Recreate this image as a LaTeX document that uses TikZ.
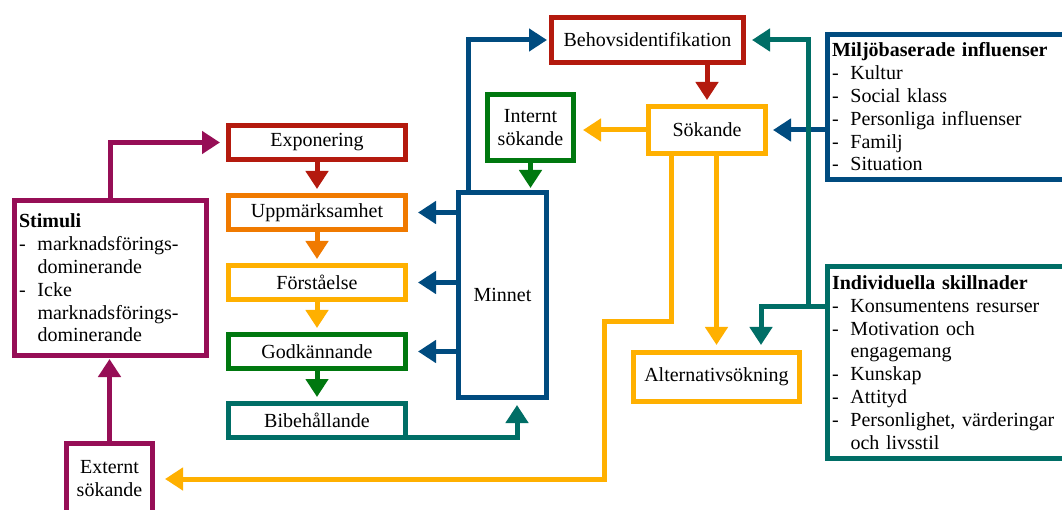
\documentclass[tikz,border=0pt]{standalone}
\usepackage{fontspec}
\setmainfont{Liberation Serif}
\usetikzlibrary{arrows.meta}
\definecolor{cred}{RGB}{180,26,14}
\definecolor{corange}{RGB}{240,122,0}
\definecolor{cyellow}{RGB}{255,176,0}
\definecolor{cgreen}{RGB}{0,120,15}
\definecolor{cteal}{RGB}{0,110,102}
\definecolor{cblue}{RGB}{0,75,127}
\definecolor{cpurple}{RGB}{150,14,86}
\newcommand\itm[1]{\makebox[18.5pt][l]{-}#1}
\newcommand\cnt[1]{\hspace*{18.5pt}#1}
\begin{document}
\begin{tikzpicture}[x=1pt,y=-1pt,
  box/.style={draw=#1, line width=5pt, fill=white, text=black, inner sep=0pt, align=center,
    font=\fontsize{20}{23}\selectfont},
  listbox/.style={draw=#1, line width=5pt, fill=white, text=black, inner xsep=5pt, inner ysep=0pt,
    align=left, font=\fontsize{20}{22.8}\selectfont},
  arr/.style={draw=#1, line width=5pt, -{Triangle[length=18pt,width=22pt]}},
  flow/.style={box=#1, minimum width=177pt, minimum height=34pt}]
\useasboundingbox (0,0) rectangle (1062,510);
\fill[white] (0,0) rectangle (1062,510);

% left column
\node[flow=cred] (expo) at (317,142.5) {Exponering};
\node[flow=corange] (upp) at (317,212.5) {Uppmärksamhet};
\node[flow=cyellow] (forst) at (317,282.5) {Förståelse};
\node[flow=cgreen] (godk) at (317,351.5) {Godkännande};
\node[flow=cteal] (bibe) at (317,420.5) {Bibehållande};

\node[listbox=cpurple, text width=182pt, minimum height=155pt] (stim) at (110,278)
  {\textbf{Stimuli}\\\itm{marknadsförings-}\\\cnt{dominerande}\\\itm{Icke}\\\cnt{marknadsförings-}\\\cnt{dominerande}};
\node[box=cpurple, minimum width=86pt, minimum height=70pt] (ext) at (109.5,478.5)
  {Externt\\sökande};

\node[box=cblue, minimum width=88pt, minimum height=205pt] (minnet) at (502.5,295) {Minnet};
\node[box=cgreen, minimum width=86pt, minimum height=66pt] (intern) at (530.5,127.5) {Internt\\sökande};
\node[box=cred, minimum width=192pt, minimum height=45pt] (behov) at (647.5,40) {Behovsidentifikation};
\node[box=cyellow, minimum width=117pt, minimum height=47pt] (sok) at (707,130) {Sökande};
\node[box=cyellow, minimum width=166pt, minimum height=49pt] (alt) at (716.5,377) {Alternativsökning};

\node[listbox=cblue, text width=232pt, minimum height=145pt, anchor=west] (milj) at (824.5,107)
  {\textbf{Miljöbaserade influenser}\\\itm{Kultur}\\\itm{Social klass}\\\itm{Personliga influenser}\\\itm{Familj}\\\itm{Situation}};
\node[listbox=cteal, text width=232pt, minimum height=192pt, anchor=west] (indiv) at (824.5,362.5)
  {\textbf{Individuella skillnader}\\\itm{Konsumentens resurser}\\\itm{Motivation och}\\\cnt{engagemang}\\\itm{Kunskap}\\\itm{Attityd}\\\itm{Personlighet, värderingar}\\\cnt{och livsstil}};

% connectors
\draw[arr=cpurple, shorten >=6pt] (stim.north) |- (expo.west);
\draw[arr=cpurple, shorten >=1pt] (ext.north) -- (ext.north |- stim.south);
\draw[arr=cred, shorten >=4pt] (expo.south) -- (upp.north);
\draw[arr=corange, shorten >=4pt] (upp.south) -- (forst.north);
\draw[arr=cyellow, shorten >=4pt] (forst.south) -- (godk.north);
\draw[arr=cgreen, shorten >=4pt] (godk.south) -- (bibe.north);

\draw[arr=cblue, shorten >=10pt] (minnet.west |- upp.east) -- (upp.east);
\draw[arr=cblue, shorten >=10pt] (minnet.west |- forst.east) -- (forst.east);
\draw[arr=cblue, shorten >=10pt] (minnet.west |- godk.east) -- (godk.east);
\draw[arr=cblue, shorten >=2pt] ([xshift=-34.5pt]minnet.north) |- (behov.west);
\draw[arr=cgreen, shorten >=2pt] (intern.south) -- (intern.south |- minnet.north);
\draw[arr=cteal, shorten >=5pt] ([yshift=2.5pt]bibe.south east) -| ([xshift=14.5pt]minnet.south);

\draw[arr=cred, shorten >=4pt] (sok.north |- behov.south) -- (sok.north);
\draw[arr=cyellow, shorten >=7pt] (sok.west) -- (sok.west -| intern.east);
\draw[arr=cblue, shorten >=5pt] (milj.west |- sok.east) -- (sok.east);

\coordinate (j) at (808,307);
\draw[arr=cteal, shorten >=6pt] (indiv.west |- j) -- (j) |- (behov.east);
\draw[arr=cteal, shorten >=5pt] (j) -| ([xshift=44.5pt]alt.north);

\draw[arr=cyellow, shorten >=5pt] (sok.south -| alt.north) -- (alt.north);
\coordinate (y1) at (671,322);
\coordinate (y2) at (604,479);
\draw[arr=cyellow, shorten >=10pt] (sok.south -| y1) -- (y1) -| (y2) -- (y2 -| ext.east);
\end{tikzpicture}
\end{document}
